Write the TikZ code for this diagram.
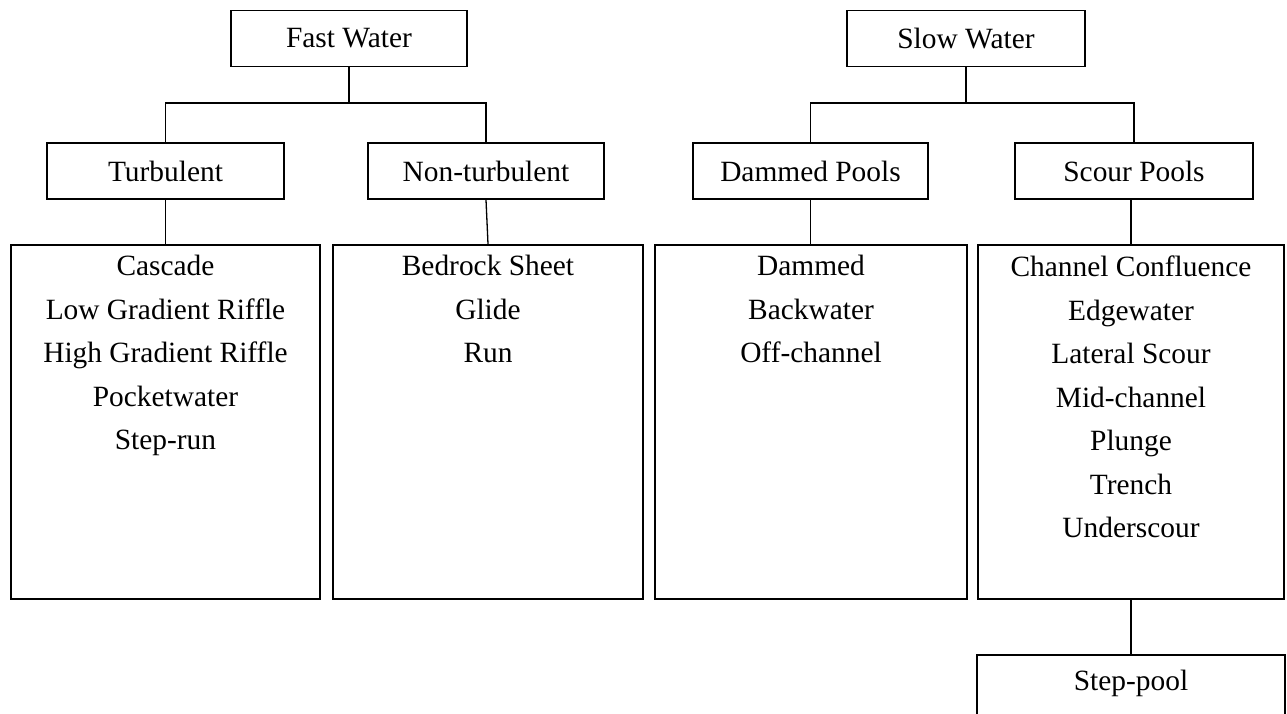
\documentclass[tikz,border=0pt]{standalone}
\usepackage{fontspec}
\setmainfont{Liberation Serif}
\begin{document}
\begin{tikzpicture}[x=1pt,y=-1pt,
  hdr/.style={draw, line width=1.6pt, inner sep=0pt, minimum height=56pt, font=\fontsize{29.4}{43.5}\selectfont},
  bigbox/.style={draw, line width=1.8pt, inner sep=0pt, minimum height=354pt, anchor=north},
  listtxt/.style={anchor=north, inner sep=0pt, align=center, font=\fontsize{29.4}{43.5}\selectfont},
  conn/.style={line width=1.3pt}]
\useasboundingbox (0,0) rectangle (1287,714);
\clip (0,0) rectangle (1287,714);
\fill[white] (0,0) rectangle (1287,714);
% top level
\node[hdr, minimum width=236pt] (fw) at (349,38.5) {Fast Water};
\node[hdr, minimum width=238pt] (sw) at (966,38.5) {Slow Water};
% second level
\node[hdr, minimum width=237pt] (tu) at (165.5,171) {Turbulent};
\node[hdr, minimum width=236pt] (nt) at (486,171) {Non-turbulent};
\node[hdr, minimum width=235pt] (dp) at (810.5,171) {Dammed Pools};
\node[hdr, minimum width=238pt] (sp) at (1134,171) {Scour Pools};
% big boxes
\node[bigbox, minimum width=309pt] (b1) at (165.5,244) {};
\node[bigbox, minimum width=310pt] (b2) at (488,244) {};
\node[bigbox, minimum width=312pt] (b3) at (811,244) {};
\node[bigbox, minimum width=306pt] (b4) at (1131,244) {};
\node[listtxt] (l1) at (b1.north |- 0,255) {Cascade\\Low Gradient Riffle\\High Gradient Riffle\\Pocketwater\\Step-run};
\node[listtxt] (l2) at (b2.north |- 0,255) {Bedrock Sheet\\Glide\\Run};
\node[listtxt] (l3) at (b3.north |- 0,255) {Dammed\\Backwater\\Off-channel};
\node[listtxt] (l4) at (b4.north |- 0,256) {Channel Confluence\\Edgewater\\Lateral Scour\\Mid-channel\\Plunge\\Trench\\Underscour};
% step-pool
\node[draw, line width=1.6pt, inner sep=0pt, minimum width=308pt, minimum height=120pt, anchor=north] (stp) at (1131,654) {};
\node[inner sep=0pt, font=\fontsize{29.4}{43.5}\selectfont] (stpt) at (1131,683) {Step-pool};
% connectors
\coordinate (h1) at (0,103);
\draw[conn] (fw.south) -- (fw.south |- h1);
\draw[conn] (tu.north -| b1.north) -- (b1.north |- h1) -| (nt.north);
\draw[conn] (sw.south) -- (sw.south |- h1);
\draw[conn] (dp.north) -- (dp.north |- h1) -| (sp.north);
\draw[conn] (tu.south -| b1.north) -- (b1.north);
\draw[conn] (nt.south) -- (b2.north);
\draw[conn] (dp.south) -- (dp.south |- b3.north);
\draw[conn] (sp.south -| b4.north) -- (b4.north);
\draw[conn] (b4.south) -- (stp.north);
\end{tikzpicture}
\end{document}
